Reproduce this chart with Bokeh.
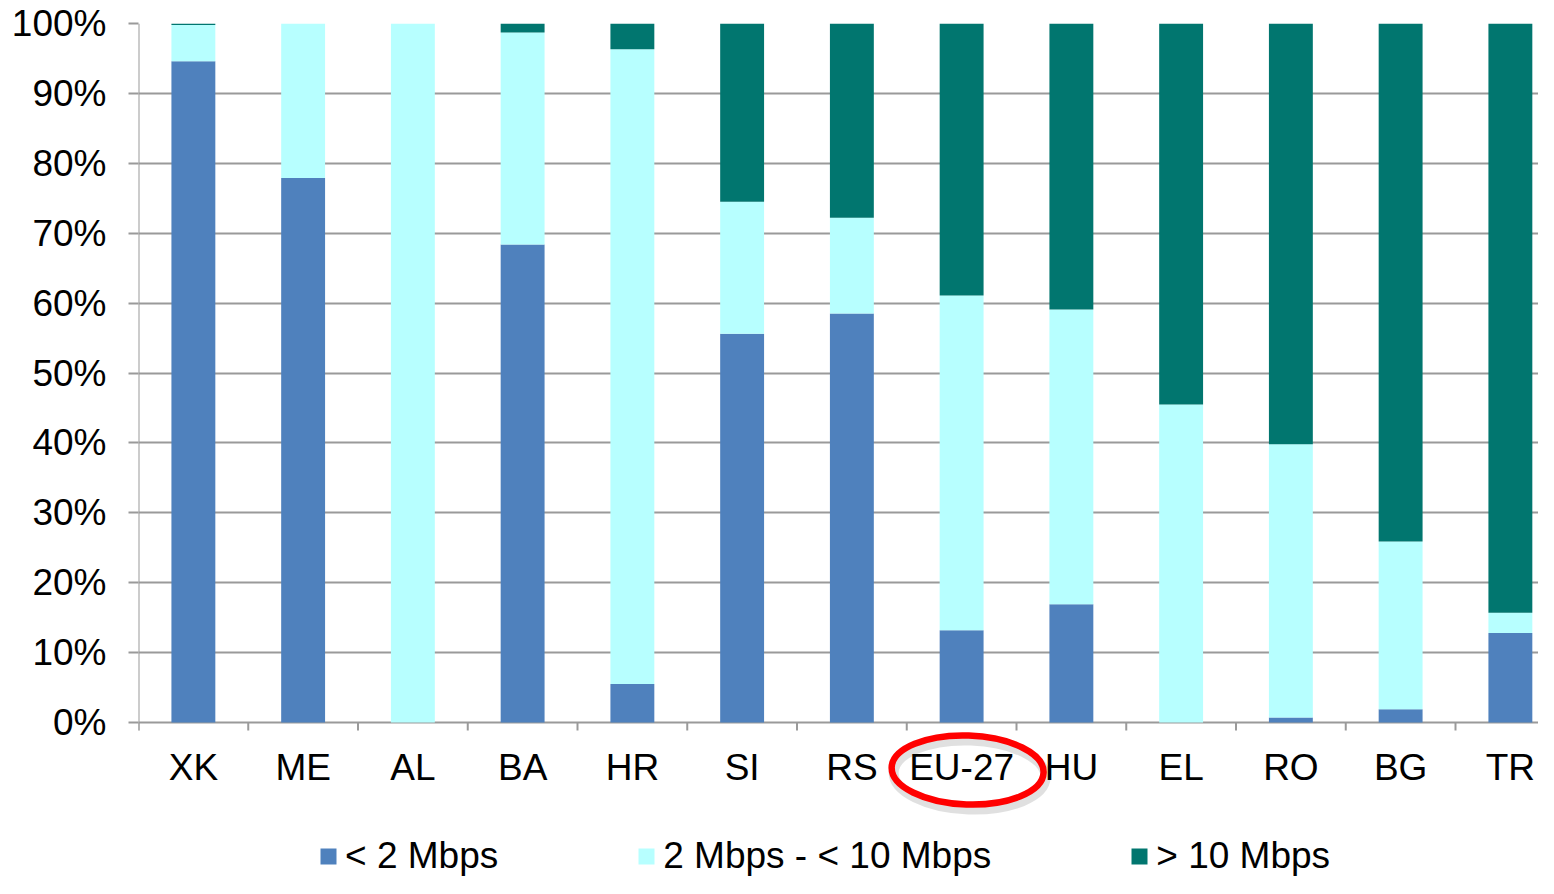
import math
from bokeh.plotting import figure
from bokeh.models import (Range1d, FixedTicker, CustomJSTickFormatter, Legend, LegendItem,
                          ColumnDataSource)
from bokeh.core.properties import value
from bokeh.embed import file_html
from bokeh.resources import INLINE

# ---------------- data ----------------
categories = ["XK", "ME", "AL", "BA", "HR", "SI", "RS", "EU-27", "HU", "EL", "RO", "BG", "TR"]
below_2_mbps = [94.6, 77.9, 0.0, 68.4, 5.5, 55.6, 58.5, 13.2, 16.9, 0.0, 0.7, 1.9, 12.8]
mbps_2_to_10 = [5.2, 22.1, 100.0, 30.3, 90.8, 18.9, 13.7, 47.9, 42.2, 45.5, 39.1, 24.0, 2.9]
above_10_mbps = [0.2, 0.0, 0.0, 1.3, 3.7, 25.5, 27.8, 38.9, 40.9, 54.5, 60.2, 74.1, 84.3]
series_names = ["< 2 Mbps", "2 Mbps - < 10 Mbps", "> 10 Mbps"]
y_ticks = [0, 10, 20, 30, 40, 50, 60, 70, 80, 90, 100]
highlighted = "EU-27"

# ---------------- style / layout ----------------
colors = ["#4F81BD", "#B7FFFF", "#01766F"]
grid_color = "#9a9a9a"
font = "Liberation Sans"
fsize = "37px"

W, H = 1538, 878
B_LEFT, B_TOP = 138, 23
ZERO_PX = 722            # pixel row of the 0% line
PPX = 109.75             # pixels per category
X_END = (W - B_LEFT) / PPX
PPY = (ZERO_PX - B_TOP) / 100.0
Y_START = -(H - ZERO_PX) / PPY

def px_below(d):
    """data-y for a point d pixels below the 0% line"""
    return -d / PPY

xs = [i + 0.5 for i in range(len(categories))]
src = ColumnDataSource(dict(x=xs, a=below_2_mbps, b=mbps_2_to_10, c=above_10_mbps))

p = figure(width=W, height=H, x_range=Range1d(0, X_END), y_range=Range1d(Y_START, 100),
           output_backend="svg", toolbar_location=None,
           min_border_left=B_LEFT, min_border_right=0,
           min_border_top=B_TOP, min_border_bottom=0)
p.outline_line_color = None
p.background_fill_color = "white"
p.border_fill_color = "white"
p.xaxis.visible = False
p.xgrid.visible = False

renderers = p.vbar_stack(["a", "b", "c"], x="x", width=0.4, source=src,
                         fill_color=colors, line_color=None)

# y axis (labels + outward ticks); spine drawn as a segment limited to 0..100
ya = p.yaxis[0]
ya.ticker = FixedTicker(ticks=y_ticks)
ya.formatter = CustomJSTickFormatter(code="return tick.toFixed(0) + '%';")
ya.major_tick_out = 10
ya.major_tick_in = 0
ya.major_tick_line_color = grid_color
ya.major_tick_line_width = 2
ya.minor_tick_line_color = None
ya.axis_line_color = None
ya.major_label_text_font = font
ya.major_label_text_font_size = fsize
ya.major_label_text_color = "black"
ya.major_label_standoff = 22

p.ygrid.ticker = FixedTicker(ticks=y_ticks)
p.ygrid.grid_line_color = grid_color
p.ygrid.grid_line_width = 2

# left spine and category boundary ticks
boundaries = list(range(len(categories) + 1))
tick_len = px_below(8)
p.segment(x0=[0], y0=[tick_len], x1=[0], y1=[100], line_color=grid_color, line_width=2)
p.segment(x0=boundaries, y0=[0] * len(boundaries), x1=boundaries, y1=[tick_len] * len(boundaries),
          line_color=grid_color, line_width=2)

# category labels
p.text(x=xs, y=[px_below(44.5)] * len(xs), text=categories, text_align="center",
       text_baseline="alphabetic", text_font=value(font), text_font_size=fsize, text_color="black")

# red ellipse highlighting EU-27 label (with a soft shadow)
hx = categories.index(highlighted) + 0.5
p.ellipse(x=[hx + 8 / PPX], y=[px_below(52.5)], width=[152], height=[69],
          width_units="screen", height_units="screen", angle=math.radians(-2),
          fill_alpha=0, line_color="black", line_alpha=0.12, line_width=10)
p.ellipse(x=[hx + 6 / PPX], y=[px_below(47.5)], width=[152], height=[69],
          width_units="screen", height_units="screen", angle=math.radians(-2),
          fill_alpha=0, line_color="#FF0000", line_width=6.5)

# legend at the bottom
legend = Legend(items=[LegendItem(label=n, renderers=[r]) for n, r in zip(series_names, renderers)],
                orientation="horizontal", location=(180, 1), spacing=138,
                glyph_width=20, glyph_height=20, label_standoff=7,
                label_text_font=font, label_text_font_size=fsize, label_text_color="black",
                border_line_color=None, background_fill_alpha=0, padding=0, margin=0)
p.add_layout(legend)

open("out.html", "w").write(file_html(p, INLINE))
